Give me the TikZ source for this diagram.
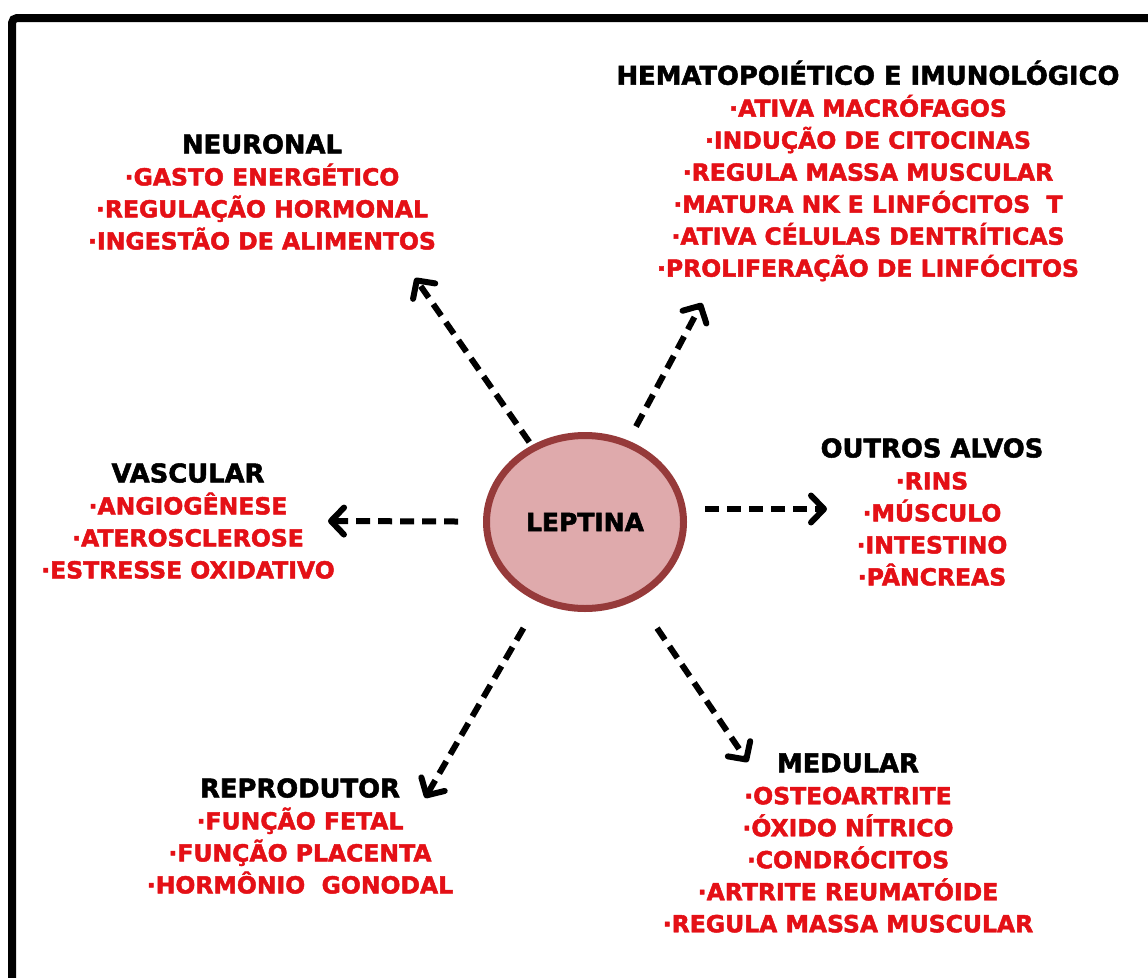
\documentclass[tikz,border=0pt]{standalone}
\usepackage{fontspec}
\setmainfont{DejaVu Sans}[BoldFeatures={FakeBold=2}]
\usetikzlibrary{arrows.meta,shapes.geometric}

\definecolor{txtred}{RGB}{228,16,22}
\definecolor{circfill}{RGB}{223,170,172}
\definecolor{circline}{RGB}{150,58,58}
\newcommand{\titulo}[1]{{\color{black}\fontsize{25.8}{32}\selectfont #1}}

\begin{document}
\begin{tikzpicture}[x=1pt, y=-1pt,
	grupo/.style={align=center, inner sep=0pt, text=txtred, font=\fontsize{23.5}{32}\selectfont\bfseries},
	seta/.style={line width=6pt, dash pattern=on 14pt off 8pt, -{Straight Barb[length=13pt,width=27pt,line width=6pt,round]}}]
	\useasboundingbox (0,0) rectangle (1148,977);
	\clip (0,0) rectangle (1148,977);

	% moldura (cortada a direita e embaixo)
	\draw[line width=8pt, rounded corners=5pt] (12,1000) -- (12,18) -- (1170,18);

	% 1. LEPTINA - centro
	\node[ellipse, draw=circline, fill=circfill, line width=7pt, minimum width=197pt, minimum height=173pt, inner sep=0pt,
		font=\fontsize{25}{28}\selectfont\bfseries] (leptina) at (585,522) {LEPTINA};

	% 2. grupos de alvos
	\node[grupo] (neuronal) at (262,192) {\titulo{NEURONAL}\\·GASTO ENERGÉTICO\\·REGULAÇÃO HORMONAL\\·INGESTÃO DE ALIMENTOS};
	\node[grupo] (hemato) at (868,171) {\titulo{HEMATOPOIÉTICO E IMUNOLÓGICO}\\·ATIVA MACRÓFAGOS\\·INDUÇÃO DE CITOCINAS\\·REGULA MASSA MUSCULAR\\·MATURA NK E LINFÓCITOS~~T\\·ATIVA CÉLULAS DENTRÍTICAS\\·PROLIFERAÇÃO DE LINFÓCITOS};
	\node[grupo] (vascular) at (188,521) {\titulo{VASCULAR}\\·ANGIOGÊNESE\\·ATEROSCLEROSE\\·ESTRESSE OXIDATIVO};
	\node[grupo] (outros) at (932,512) {\titulo{OUTROS ALVOS}\\·RINS\\·MÚSCULO\\·INTESTINO\\·PÂNCREAS};
	\node[grupo] (reprodutor) at (300,836) {\titulo{REPRODUTOR}\\·FUNÇÃO FETAL\\·FUNÇÃO PLACENTA\\·HORMÔNIO~~GONODAL};
	\node[grupo] (medular) at (848,843) {\titulo{MEDULAR}\\·OSTEOARTRITE\\·ÓXIDO NÍTRICO\\·CONDRÓCITOS\\·ARTRITE REUMATÓIDE\\·REGULA MASSA MUSCULAR};

	% 3. pontas das setas
	\coordinate (pNeuronal) at (415,278);
	\coordinate (pHemato) at (702,303);
	\coordinate (pVascular) at (328,521);
	\coordinate (pOutros) at (827,509);
	\coordinate (pReprodutor) at (425,798);
	\coordinate (pMedular) at (748,762);

	% 4. setas tracejadas
	\draw[seta, shorten <=4pt] (leptina) -- (pNeuronal);
	\draw[seta, shorten <=16pt] (leptina) -- (pHemato);
	\draw[seta, shorten <=25pt] (leptina) -- (pVascular);
	\draw[seta, shorten <=18pt] (leptina.east |- pOutros) -- (pOutros);
	\draw[seta, shorten <=30pt] (leptina) -- (pReprodutor);
	\draw[seta, shorten <=35pt] (leptina) -- (pMedular);
\end{tikzpicture}
\end{document}
